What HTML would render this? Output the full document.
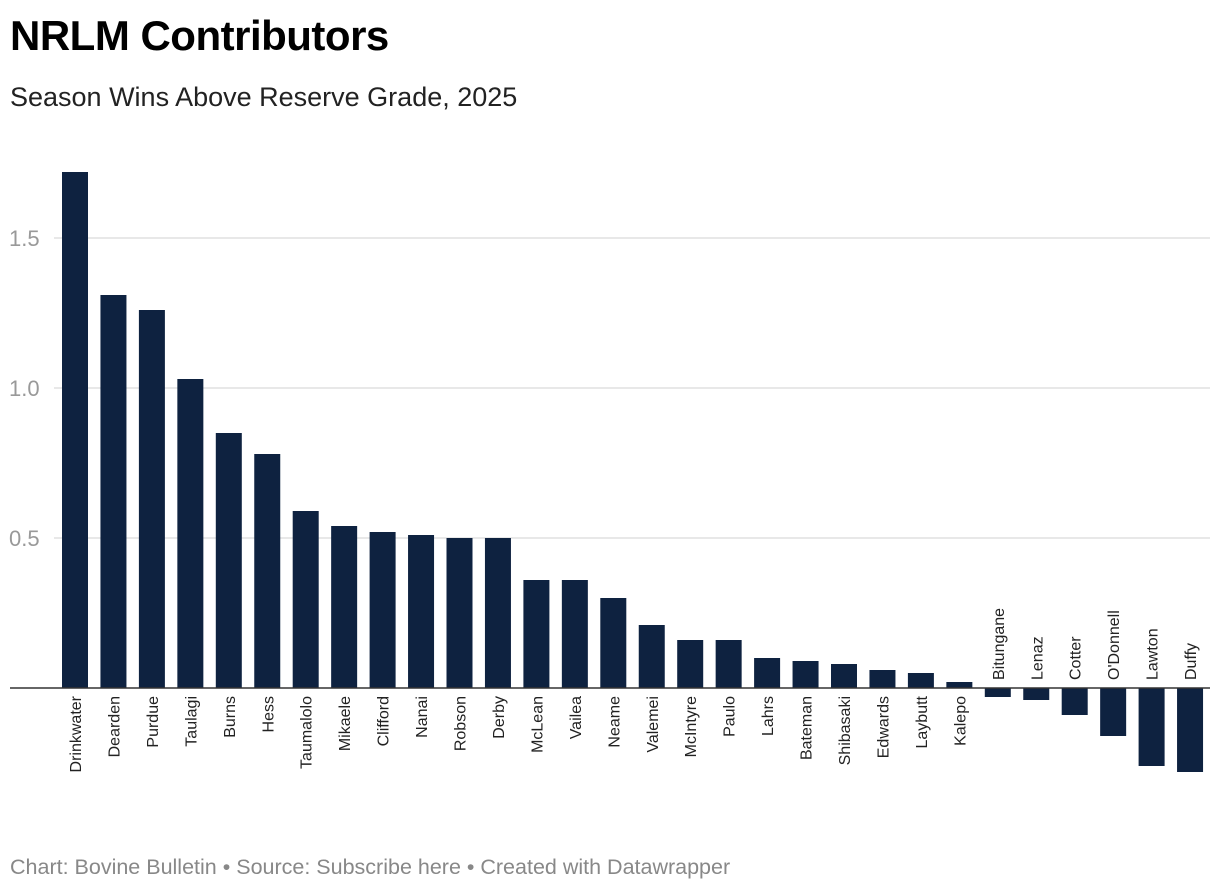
<!DOCTYPE html>
<html><head><meta charset="utf-8"><style>
body{margin:0;background:#fff;font-family:"Liberation Sans",sans-serif;}
#wrap{position:relative;width:1220px;height:892px;overflow:hidden}
h1{position:absolute;left:10px;top:12px;margin:0;font-size:42px;font-weight:bold;color:#000;letter-spacing:-0.5px}
.sub{position:absolute;left:10px;top:82px;font-size:27px;color:#222}
.foot{position:absolute;left:10px;top:855px;font-size:21.5px;color:#888}
svg{position:absolute;left:0;top:0}
</style></head><body>
<div id="wrap">
<h1>NRLM Contributors</h1>
<div class="sub">Season Wins Above Reserve Grade, 2025</div>
<svg id="svg" width="1220" height="892"></svg>
<div class="foot">Chart: Bovine Bulletin • Source: Subscribe here • Created with Datawrapper</div>
</div>
<script>
const categories=["Drinkwater","Dearden","Purdue","Taulagi","Burns","Hess","Taumalolo","Mikaele","Clifford","Nanai","Robson","Derby","McLean","Vailea","Neame","Valemei","McIntyre","Paulo","Lahrs","Bateman","Shibasaki","Edwards","Laybutt","Kalepo","Bitungane","Lenaz","Cotter","O'Donnell","Lawton","Duffy"];
const values=[1.72,1.31,1.26,1.03,0.85,0.78,0.59,0.54,0.52,0.51,0.50,0.50,0.36,0.36,0.30,0.21,0.16,0.16,0.10,0.09,0.08,0.06,0.05,0.02,-0.03,-0.04,-0.09,-0.16,-0.26,-0.28];
const ticks=[0.5,1.0,1.5];
const tickLabels=["0.5","1.0","1.5"];
const NS="http://www.w3.org/2000/svg";
const svg=document.getElementById('svg');
const y=v=>688-v*300;
const x=i=>62+i*38.45;
const bw=26;
function mk(t,a){const e=document.createElementNS(NS,t);for(const k in a)e.setAttribute(k,a[k]);svg.appendChild(e);return e;}
ticks.forEach((t,i)=>{
  const g=mk('line',{x1:54,x2:1210,y1:y(t),y2:y(t),stroke:'#e0e0e0','stroke-width':1.5});
  
  
  const l=mk('text',{x:9,y:y(t)+8,'font-size':22,fill:'#999','font-family':'Liberation Sans, sans-serif'});
  l.textContent=tickLabels[i];
  
  
});
values.forEach((v,i)=>{
  const top=Math.min(y(v),y(0)),h=Math.abs(y(v)-y(0));
  const r=mk('rect',{x:x(i),y:top,width:bw,height:h,fill:'#0e2240'});
  
  
  const cx=x(i)+bw/2+6;
  let t;
  if(v>=0){
    t=mk('text',{x:0,y:0,'font-size':16,fill:'#222','text-anchor':'end','font-family':'Liberation Sans, sans-serif',transform:`translate(${cx},${y(0)+8}) rotate(-90)`});
  }else{
    t=mk('text',{x:0,y:0,'font-size':16,fill:'#222','text-anchor':'start','font-family':'Liberation Sans, sans-serif',transform:`translate(${cx},${y(0)-8}) rotate(-90)`});
  }
  t.textContent=categories[i];
  
  
});
const ax=mk('line',{x1:10,x2:1210,y1:y(0),y2:y(0),stroke:'#333','stroke-width':1.5});


</script>
</body></html>
